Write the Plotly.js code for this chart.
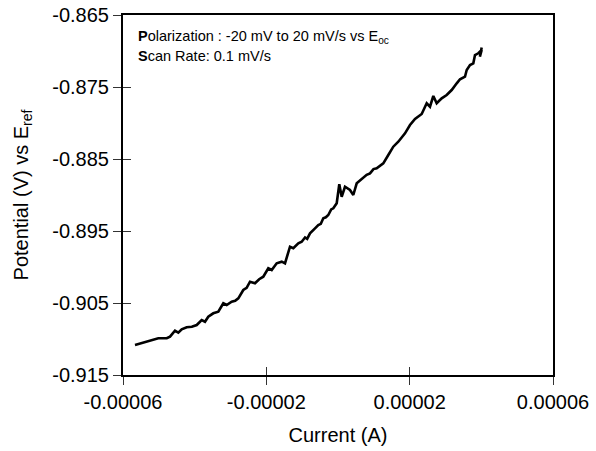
<!DOCTYPE html>
<html>
<head>
<meta charset="utf-8">
<script src="https://cdn.plot.ly/plotly-3.0.1.min.js"></script>
<style>html,body{margin:0;padding:0;background:#fff;}#chart{width:596px;height:451px;}</style>
</head>
<body>
<div id="chart"></div>
<script>
// Current (A) (in microamps, converted below)
var currentMicroA = [-56.65, -50.15, -47.8, -46.88, -45.49, -44.57, -43.62, -42.22, -40.8, -39.43, -38.04,
  -37.12, -36.2, -34.8, -33.4, -32.01, -31.06, -29.67, -28.7, -27.82, -26.43, -25.5, -24.56,
  -23.16, -22.0, -20.85, -19.45, -18.5, -17.11, -15.71, -14.79, -13.4, -12.47, -11.08,
  -10.13, -9.2, -8.6, -7.81, -6.42, -5.5, -4.8, -4.1, -3.4, -2.71, -1.9, -1.31, -0.36, 0.36, 1.03,
  1.95, 3.35, 4.27, 5.22, 6.2, 7.06, 8.0, 8.93, 9.9, 10.8, 11.7, 12.64, 14.04, 15.43,
  16.83, 17.8, 18.7, 20.09, 21.49, 23.36, 24.75, 25.67, 26.6, 27.54, 28.94,
  30.33, 31.73, 33.13, 34.05, 35.44, 35.92, 36.84, 37.76, 38.23, 39.15, 40.1, 39.6, 40.1];
// Potential (V) vs Eref
var potentialV = [-0.91083, -0.90990, -0.90990, -0.90968, -0.90885, -0.90912, -0.90865, -0.90837, -0.90830, -0.90806, -0.90736,
  -0.90760, -0.90690, -0.90643, -0.90621, -0.90504, -0.90528, -0.90482, -0.90470, -0.90435, -0.90319, -0.90290, -0.90204,
  -0.90226, -0.90170, -0.90135, -0.90018, -0.90042, -0.89949, -0.89926, -0.89949, -0.89718, -0.89740, -0.89671,
  -0.89649, -0.89590, -0.89610, -0.89532, -0.89463, -0.89417, -0.89400, -0.89324, -0.89310, -0.89278, -0.89200, -0.89185, -0.89115, -0.88851, -0.89024,
  -0.88885, -0.88931, -0.89000, -0.88838, -0.88800, -0.88768, -0.88720, -0.88699, -0.88640, -0.88629, -0.88600, -0.88560, -0.88444, -0.88329,
  -0.88260, -0.88200, -0.88143, -0.88028, -0.87944, -0.87875, -0.87726, -0.87774, -0.87625, -0.87726, -0.87657,
  -0.87611, -0.87542, -0.87449, -0.87393, -0.87357, -0.87264, -0.87194, -0.87171, -0.87056, -0.87032, -0.86986, -0.87080, -0.86950];

var xTickVals = [-0.00006, -0.00002, 0.00002, 0.00006];
var xTickText = ["-0.00006", "-0.00002", "0.00002", "0.00006"];
var yTickVals = [-0.915, -0.905, -0.895, -0.885, -0.875, -0.865];
var yTickText = ["-0.915", "-0.905", "-0.895", "-0.885", "-0.875", "-0.865"];
var xRange = [-0.00006, 0.00006];
var yRange = [-0.915, -0.865];

var currentA = currentMicroA.map(function(v){ return v * 1e-6; });

var fam = "Liberation Sans, Arial, sans-serif";

var data = [{
  x: currentA, y: potentialV, type: "scatter", mode: "lines",
  line: {color: "#000", width: 2.6}, hoverinfo: "skip", showlegend: false
}, {x: [], y: [], xaxis: "x2", yaxis: "y2", type: "scatter", mode: "lines", showlegend: false, hoverinfo: "skip"}];

var layout = {
  width: 596, height: 451,
  margin: {l: 123, r: 43, t: 15, b: 76},
  paper_bgcolor: "#fff", plot_bgcolor: "#fff",
  showlegend: false,
  font: {family: fam, size: 20, color: "#000"},
  xaxis: {
    range: xRange, tickvals: xTickVals, ticktext: xTickText,
    ticks: "outside", ticklen: 8, tickwidth: 1, tickcolor: "#333",
    showgrid: false, zeroline: false,
    showline: true, linecolor: "#000", linewidth: 2, mirror: true,
    tickfont: {size: 20, family: fam, color: "#000"},
    title: {text: "Current (A)", font: {size: 20, family: fam, color: "#000"}, standoff: 16}
  },
  yaxis: {
    range: yRange, tickvals: yTickVals, ticktext: yTickText,
    ticks: "outside", ticklen: 8, tickwidth: 1, tickcolor: "#333",
    showgrid: false, zeroline: false,
    showline: true, linecolor: "#000", linewidth: 2, mirror: true,
    tickfont: {size: 20, family: fam, color: "#000"},
    title: {text: "Potential (V) vs E<sub>ref</sub>", font: {size: 20, family: fam, color: "#000"}, standoff: 18}
  },
  xaxis2: {
    overlaying: "x", range: xRange, tickvals: xTickVals, showticklabels: false,
    ticks: "inside", ticklen: 8, tickwidth: 1, tickcolor: "#333",
    showgrid: false, zeroline: false, showline: false, anchor: "y2", side: "bottom"
  },
  yaxis2: {
    overlaying: "y", range: yRange, tickvals: yTickVals, showticklabels: false,
    ticks: "inside", ticklen: 8, tickwidth: 1, tickcolor: "#333",
    showgrid: false, zeroline: false, showline: false, anchor: "x2", side: "left"
  },
  annotations: [
    {xref: "paper", yref: "paper", x: 0.03, y: 0.94, xanchor: "left", yanchor: "middle", showarrow: false,
     text: "<b>P</b>olarization : -20 mV to 20 mV/s vs E<sub>oc</sub>", font: {size: 14.5, family: fam, color: "#000"}},
    {xref: "paper", yref: "paper", x: 0.03, y: 0.885, xanchor: "left", yanchor: "middle", showarrow: false,
     text: "<b>S</b>can Rate: 0.1 mV/s", font: {size: 14.5, family: fam, color: "#000"}}
  ]
};

Plotly.newPlot("chart", data, layout, {displayModeBar: false, staticPlot: true});
</script>
</body>
</html>
